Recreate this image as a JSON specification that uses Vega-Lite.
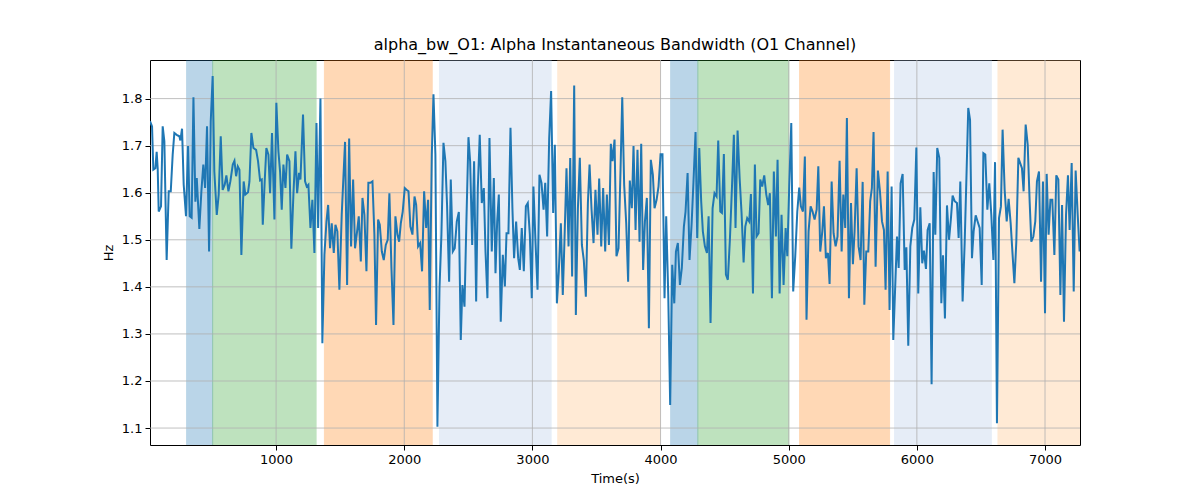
{
  "$schema": "https://vega.github.io/schema/vega-lite/v6.json",
  "width": 930,
  "height": 385,
  "autosize": {"type": "none"},
  "padding": {"left": 150, "top": 60, "right": 120, "bottom": 55},
  "background": "white",
  "title": {
    "text": "alpha_bw_O1: Alpha Instantaneous Bandwidth (O1 Channel)",
    "font": "DejaVu Sans",
    "fontSize": 16,
    "fontWeight": "normal",
    "color": "black",
    "offset": 7
  },
  "datasets": {
    "bands": [
      {"start": 302, "end": 505, "state": "A"},
      {"start": 505, "end": 1312, "state": "B"},
      {"start": 1377, "end": 2218, "state": "C"},
      {"start": 2275, "end": 3146, "state": "D"},
      {"start": 3198, "end": 3997, "state": "E"},
      {"start": 4079, "end": 4291, "state": "A"},
      {"start": 4291, "end": 5001, "state": "B"},
      {"start": 5085, "end": 5787, "state": "C"},
      {"start": 5826, "end": 6581, "state": "D"},
      {"start": 6633, "end": 7273, "state": "E"}
    ],
    "xticks": [{"t": 1000}, {"t": 2000}, {"t": 3000}, {"t": 4000}, {"t": 5000}, {"t": 6000}, {"t": 7000}],
    "yticks": [{"v": 1.1}, {"v": 1.2}, {"v": 1.3}, {"v": 1.4}, {"v": 1.5}, {"v": 1.6}, {"v": 1.7}, {"v": 1.8}],
    "series": [
      {"t":16,"v":1.752},{"t":32,"v":1.741},{"t":42,"v":1.649},{"t":58,"v":1.652},{"t":68,"v":1.687},{"t":76,"v":1.652},{"t":84,"v":1.560},{"t":102,"v":1.571},{"t":115,"v":1.741},{"t":128,"v":1.709},{"t":146,"v":1.457},{"t":162,"v":1.603},{"t":178,"v":1.603},{"t":193,"v":1.681},{"t":206,"v":1.727},{"t":224,"v":1.723},{"t":245,"v":1.720},{"t":253,"v":1.711},{"t":266,"v":1.736},{"t":279,"v":1.617},{"t":297,"v":1.550},{"t":313,"v":1.699},{"t":326,"v":1.550},{"t":341,"v":1.547},{"t":355,"v":1.803},{"t":370,"v":1.581},{"t":381,"v":1.631},{"t":401,"v":1.523},{"t":417,"v":1.603},{"t":432,"v":1.660},{"t":446,"v":1.610},{"t":461,"v":1.741},{"t":477,"v":1.475},{"t":490,"v":1.752},{"t":505,"v":1.848},{"t":518,"v":1.645},{"t":537,"v":1.553},{"t":552,"v":1.596},{"t":568,"v":1.720},{"t":583,"v":1.606},{"t":599,"v":1.617},{"t":612,"v":1.637},{"t":628,"v":1.603},{"t":643,"v":1.624},{"t":662,"v":1.660},{"t":675,"v":1.668},{"t":688,"v":1.635},{"t":701,"v":1.656},{"t":714,"v":1.649},{"t":729,"v":1.468},{"t":747,"v":1.624},{"t":760,"v":1.596},{"t":781,"v":1.601},{"t":792,"v":1.624},{"t":807,"v":1.727},{"t":823,"v":1.695},{"t":844,"v":1.691},{"t":859,"v":1.667},{"t":875,"v":1.626},{"t":888,"v":1.628},{"t":896,"v":1.532},{"t":911,"v":1.624},{"t":924,"v":1.695},{"t":940,"v":1.681},
      {"t":953,"v":1.599},{"t":968,"v":1.727},{"t":987,"v":1.543},{"t":1002,"v":1.791},{"t":1018,"v":1.688},{"t":1031,"v":1.645},{"t":1044,"v":1.564},{"t":1057,"v":1.660},{"t":1073,"v":1.610},{"t":1086,"v":1.681},{"t":1104,"v":1.667},{"t":1119,"v":1.481},{"t":1135,"v":1.596},{"t":1151,"v":1.688},{"t":1164,"v":1.599},{"t":1179,"v":1.642},{"t":1190,"v":1.628},{"t":1210,"v":1.766},{"t":1226,"v":1.624},{"t":1239,"v":1.613},{"t":1252,"v":1.617},{"t":1268,"v":1.525},{"t":1283,"v":1.585},{"t":1299,"v":1.472},{"t":1315,"v":1.748},{"t":1328,"v":1.525},{"t":1346,"v":1.800},{"t":1361,"v":1.280},{"t":1377,"v":1.468},{"t":1393,"v":1.539},{"t":1406,"v":1.574},{"t":1421,"v":1.482},{"t":1434,"v":1.535},{"t":1450,"v":1.472},{"t":1463,"v":1.532},{"t":1478,"v":1.518},{"t":1494,"v":1.394},{"t":1512,"v":1.553},{"t":1538,"v":1.708},{"t":1554,"v":1.404},{"t":1570,"v":1.715},{"t":1585,"v":1.486},{"t":1601,"v":1.628},{"t":1616,"v":1.482},{"t":1632,"v":1.518},{"t":1645,"v":1.550},{"t":1661,"v":1.454},{"t":1674,"v":1.589},{"t":1689,"v":1.553},{"t":1705,"v":1.433},{"t":1720,"v":1.621},{"t":1736,"v":1.621},{"t":1752,"v":1.624},{"t":1767,"v":1.511},{"t":1780,"v":1.319},{"t":1796,"v":1.543},{"t":1809,"v":1.532},{"t":1825,"v":1.475},{"t":1840,"v":1.457},{"t":1856,"v":1.489},{"t":1871,"v":1.500},{"t":1884,"v":1.599},{"t":1900,"v":1.440},{"t":1916,"v":1.319},
      {"t":1931,"v":1.550},{"t":1947,"v":1.511},{"t":1960,"v":1.496},{"t":1973,"v":1.535},{"t":1988,"v":1.560},{"t":2004,"v":1.610},{"t":2020,"v":1.606},{"t":2033,"v":1.603},{"t":2048,"v":1.528},{"t":2064,"v":1.511},{"t":2080,"v":1.592},{"t":2093,"v":1.574},{"t":2108,"v":1.486},{"t":2124,"v":1.493},{"t":2139,"v":1.433},{"t":2155,"v":1.603},{"t":2171,"v":1.525},{"t":2186,"v":1.585},{"t":2199,"v":1.351},{"t":2215,"v":1.681},{"t":2228,"v":1.809},{"t":2243,"v":1.681},{"t":2259,"v":1.103},{"t":2275,"v":1.397},{"t":2290,"v":1.511},{"t":2306,"v":1.706},{"t":2321,"v":1.667},{"t":2334,"v":1.574},{"t":2350,"v":1.411},{"t":2363,"v":1.628},{"t":2379,"v":1.475},{"t":2394,"v":1.482},{"t":2410,"v":1.539},{"t":2426,"v":1.559},{"t":2441,"v":1.287},{"t":2454,"v":1.404},{"t":2470,"v":1.358},{"t":2485,"v":1.539},{"t":2501,"v":1.718},{"t":2514,"v":1.667},{"t":2530,"v":1.489},{"t":2545,"v":1.667},{"t":2561,"v":1.369},{"t":2574,"v":1.610},{"t":2589,"v":1.723},{"t":2605,"v":1.578},{"t":2621,"v":1.610},{"t":2634,"v":1.475},{"t":2649,"v":1.376},{"t":2665,"v":1.716},{"t":2683,"v":1.475},{"t":2699,"v":1.631},{"t":2712,"v":1.429},{"t":2725,"v":1.539},{"t":2738,"v":1.596},{"t":2753,"v":1.326},{"t":2769,"v":1.468},{"t":2785,"v":1.401},{"t":2798,"v":1.514},{"t":2813,"v":1.514},{"t":2829,"v":1.738},{"t":2844,"v":1.567},{"t":2857,"v":1.461},{"t":2873,"v":1.539},{"t":2889,"v":1.461},
      {"t":2902,"v":1.436},{"t":2917,"v":1.525},{"t":2933,"v":1.433},{"t":2949,"v":1.571},{"t":2964,"v":1.578},{"t":2980,"v":1.511},{"t":2995,"v":1.376},{"t":3008,"v":1.613},{"t":3024,"v":1.496},{"t":3040,"v":1.394},{"t":3055,"v":1.638},{"t":3071,"v":1.621},{"t":3087,"v":1.564},{"t":3100,"v":1.621},{"t":3115,"v":1.507},{"t":3131,"v":1.716},{"t":3146,"v":1.816},{"t":3162,"v":1.557},{"t":3175,"v":1.702},{"t":3191,"v":1.365},{"t":3206,"v":1.433},{"t":3222,"v":1.535},{"t":3237,"v":1.383},{"t":3250,"v":1.496},{"t":3266,"v":1.652},{"t":3282,"v":1.486},{"t":3295,"v":1.674},{"t":3310,"v":1.422},{"t":3326,"v":1.828},{"t":3339,"v":1.340},{"t":3355,"v":1.567},{"t":3370,"v":1.674},{"t":3386,"v":1.489},{"t":3401,"v":1.457},{"t":3417,"v":1.379},{"t":3433,"v":1.578},{"t":3446,"v":1.660},{"t":3461,"v":1.567},{"t":3477,"v":1.493},{"t":3492,"v":1.606},{"t":3508,"v":1.511},{"t":3521,"v":1.630},{"t":3537,"v":1.486},{"t":3552,"v":1.610},{"t":3568,"v":1.475},{"t":3581,"v":1.596},{"t":3597,"v":1.489},{"t":3612,"v":1.704},{"t":3625,"v":1.667},{"t":3641,"v":1.713},{"t":3656,"v":1.465},{"t":3672,"v":1.482},{"t":3688,"v":1.652},{"t":3701,"v":1.803},{"t":3716,"v":1.617},{"t":3732,"v":1.535},{"t":3747,"v":1.411},{"t":3760,"v":1.626},{"t":3776,"v":1.567},{"t":3789,"v":1.699},{"t":3805,"v":1.521},{"t":3820,"v":1.691},{"t":3836,"v":1.496},{"t":3849,"v":1.704},{"t":3864,"v":1.436},
      {"t":3878,"v":1.539},{"t":3893,"v":1.589},{"t":3909,"v":1.312},{"t":3924,"v":1.670},{"t":3940,"v":1.638},{"t":3953,"v":1.567},{"t":3969,"v":1.585},{"t":3984,"v":1.613},{"t":4000,"v":1.682},{"t":4015,"v":1.682},{"t":4031,"v":1.376},{"t":4044,"v":1.550},{"t":4060,"v":1.383},{"t":4075,"v":1.149},{"t":4091,"v":1.447},{"t":4107,"v":1.365},{"t":4120,"v":1.475},{"t":4135,"v":1.493},{"t":4151,"v":1.404},{"t":4166,"v":1.440},{"t":4182,"v":1.528},{"t":4195,"v":1.560},{"t":4211,"v":1.642},{"t":4226,"v":1.457},{"t":4242,"v":1.532},{"t":4257,"v":1.624},{"t":4273,"v":1.729},{"t":4286,"v":1.504},{"t":4302,"v":1.695},{"t":4317,"v":1.582},{"t":4330,"v":1.518},{"t":4346,"v":1.486},{"t":4362,"v":1.472},{"t":4375,"v":1.550},{"t":4390,"v":1.323},{"t":4406,"v":1.567},{"t":4421,"v":1.599},{"t":4437,"v":1.592},{"t":4450,"v":1.711},{"t":4466,"v":1.560},{"t":4479,"v":1.557},{"t":4494,"v":1.682},{"t":4510,"v":1.426},{"t":4525,"v":1.415},{"t":4541,"v":1.500},{"t":4557,"v":1.610},{"t":4572,"v":1.723},{"t":4585,"v":1.525},{"t":4601,"v":1.732},{"t":4617,"v":1.631},{"t":4632,"v":1.557},{"t":4648,"v":1.452},{"t":4661,"v":1.528},{"t":4676,"v":1.546},{"t":4692,"v":1.539},{"t":4705,"v":1.597},{"t":4721,"v":1.386},{"t":4736,"v":1.660},{"t":4749,"v":1.507},{"t":4765,"v":1.514},{"t":4778,"v":1.628},{"t":4793,"v":1.613},{"t":4809,"v":1.637},{"t":4825,"v":1.596},{"t":4840,"v":1.574},
      {"t":4853,"v":1.599},{"t":4869,"v":1.376},{"t":4884,"v":1.645},{"t":4900,"v":1.507},{"t":4913,"v":1.670},{"t":4929,"v":1.386},{"t":4944,"v":1.553},{"t":4960,"v":1.404},{"t":4976,"v":1.525},{"t":4989,"v":1.465},{"t":5004,"v":1.613},{"t":5020,"v":1.748},{"t":5035,"v":1.390},{"t":5051,"v":1.465},{"t":5067,"v":1.560},{"t":5082,"v":1.611},{"t":5095,"v":1.571},{"t":5111,"v":1.560},{"t":5126,"v":1.677},{"t":5139,"v":1.330},{"t":5155,"v":1.518},{"t":5171,"v":1.571},{"t":5186,"v":1.560},{"t":5202,"v":1.543},{"t":5218,"v":1.564},{"t":5231,"v":1.656},{"t":5246,"v":1.475},{"t":5262,"v":1.518},{"t":5275,"v":1.571},{"t":5290,"v":1.461},{"t":5306,"v":1.472},{"t":5319,"v":1.406},{"t":5335,"v":1.624},{"t":5350,"v":1.514},{"t":5366,"v":1.486},{"t":5381,"v":1.507},{"t":5397,"v":1.668},{"t":5413,"v":1.475},{"t":5426,"v":1.596},{"t":5441,"v":1.525},{"t":5454,"v":1.759},{"t":5470,"v":1.376},{"t":5486,"v":1.578},{"t":5501,"v":1.448},{"t":5514,"v":1.518},{"t":5530,"v":1.652},{"t":5545,"v":1.486},{"t":5561,"v":1.457},{"t":5577,"v":1.623},{"t":5590,"v":1.362},{"t":5605,"v":1.475},{"t":5621,"v":1.475},{"t":5636,"v":1.582},{"t":5649,"v":1.610},{"t":5662,"v":1.729},{"t":5678,"v":1.443},{"t":5696,"v":1.647},{"t":5712,"v":1.603},{"t":5728,"v":1.539},{"t":5743,"v":1.521},{"t":5756,"v":1.394},{"t":5772,"v":1.645},{"t":5787,"v":1.351},{"t":5803,"v":1.613},{"t":5816,"v":1.287},
      {"t":5845,"v":1.507},{"t":5858,"v":1.440},{"t":5873,"v":1.620},{"t":5889,"v":1.640},{"t":5905,"v":1.436},{"t":5918,"v":1.484},{"t":5933,"v":1.275},{"t":5949,"v":1.486},{"t":5964,"v":1.525},{"t":5980,"v":1.543},{"t":5996,"v":1.696},{"t":6011,"v":1.386},{"t":6027,"v":1.569},{"t":6042,"v":1.450},{"t":6055,"v":1.477},{"t":6071,"v":1.438},{"t":6084,"v":1.521},{"t":6100,"v":1.535},{"t":6115,"v":1.193},{"t":6131,"v":1.644},{"t":6144,"v":1.511},{"t":6159,"v":1.695},{"t":6175,"v":1.674},{"t":6191,"v":1.365},{"t":6204,"v":1.467},{"t":6219,"v":1.333},{"t":6235,"v":1.573},{"t":6251,"v":1.500},{"t":6266,"v":1.546},{"t":6279,"v":1.594},{"t":6295,"v":1.582},{"t":6313,"v":1.578},{"t":6326,"v":1.504},{"t":6339,"v":1.624},{"t":6357,"v":1.369},{"t":6373,"v":1.493},{"t":6386,"v":1.624},{"t":6401,"v":1.780},{"t":6415,"v":1.755},{"t":6430,"v":1.461},{"t":6443,"v":1.518},{"t":6459,"v":1.552},{"t":6474,"v":1.539},{"t":6490,"v":1.525},{"t":6506,"v":1.404},{"t":6519,"v":1.684},{"t":6534,"v":1.681},{"t":6550,"v":1.564},{"t":6565,"v":1.620},{"t":6581,"v":1.553},{"t":6597,"v":1.457},{"t":6610,"v":1.665},{"t":6625,"v":1.110},{"t":6641,"v":1.546},{"t":6656,"v":1.571},{"t":6669,"v":1.734},{"t":6685,"v":1.606},{"t":6701,"v":1.539},{"t":6716,"v":1.587},{"t":6732,"v":1.535},{"t":6747,"v":1.468},{"t":6761,"v":1.408},{"t":6776,"v":1.496},{"t":6792,"v":1.674},
      {"t":6820,"v":1.652},{"t":6833,"v":1.603},{"t":6849,"v":1.745},{"t":6865,"v":1.702},{"t":6880,"v":1.582},{"t":6893,"v":1.496},{"t":6909,"v":1.507},{"t":6924,"v":1.539},{"t":6937,"v":1.624},{"t":6953,"v":1.645},{"t":6969,"v":1.411},{"t":6984,"v":1.624},{"t":7000,"v":1.344},{"t":7013,"v":1.640},{"t":7028,"v":1.511},{"t":7042,"v":1.585},{"t":7057,"v":1.585},{"t":7073,"v":1.468},{"t":7088,"v":1.637},{"t":7104,"v":1.628},{"t":7120,"v":1.383},{"t":7133,"v":1.574},{"t":7148,"v":1.326},{"t":7164,"v":1.553},{"t":7179,"v":1.637},{"t":7192,"v":1.521},{"t":7208,"v":1.663},{"t":7224,"v":1.390},{"t":7239,"v":1.647},{"t":7255,"v":1.553},{"t":7270,"v":1.475}
    ]
  },
  "layer": [
    {
      "data": {"name": "bands"},
      "mark": {"type": "rect", "opacity": 0.3, "strokeWidth": 1, "clip": true},
      "encoding": {
        "x": {
          "field": "start",
          "type": "quantitative",
          "scale": {"domain": [16, 7273], "nice": false, "zero": false},
          "axis": {"title": "Time(s)", "values": [1000, 2000, 3000, 4000, 5000, 6000, 7000], "format": "d"}
        },
        "x2": {"field": "end"},
        "color": {
          "field": "state",
          "type": "nominal",
          "scale": {
            "domain": ["A", "B", "C", "D", "E"],
            "range": ["#1f77b4", "#2ca02c", "#ff7f0e", "#aec7e8", "#ffbb78"]
          },
          "legend": null
        },
        "stroke": {
          "field": "state",
          "type": "nominal",
          "scale": {
            "domain": ["A", "B", "C", "D", "E"],
            "range": ["#1f77b4", "#2ca02c", "#ff7f0e", "#aec7e8", "#ffbb78"]
          },
          "legend": null
        }
      }
    },
    {
      "data": {"name": "xticks"},
      "mark": {"type": "rule", "color": "#b0b0b0", "strokeWidth": 0.8},
      "encoding": {"x": {"field": "t", "type": "quantitative"}}
    },
    {
      "data": {"name": "yticks"},
      "mark": {"type": "rule", "color": "#b0b0b0", "strokeWidth": 0.8},
      "encoding": {"y": {"field": "v", "type": "quantitative"}}
    },
    {
      "data": {"name": "series"},
      "mark": {"type": "line", "color": "#1f77b4", "strokeWidth": 2, "clip": true},
      "encoding": {
        "x": {"field": "t", "type": "quantitative"},
        "y": {
          "field": "v",
          "type": "quantitative",
          "scale": {"domain": [1.064, 1.882], "nice": false, "zero": false},
          "axis": {"title": "Hz", "values": [1.1, 1.2, 1.3, 1.4, 1.5, 1.6, 1.7, 1.8], "format": ".1f"}
        }
      }
    }
  ],
  "config": {
    "view": {"stroke": "black", "strokeWidth": 1},
    "axis": {
      "domain": false,
      "grid": false,
      "tickColor": "black",
      "tickSize": 5,
      "labelPadding": 3,
      "labelFont": "DejaVu Sans",
      "labelFontSize": 13,
      "labelColor": "black",
      "titleFont": "DejaVu Sans",
      "titleFontSize": 13,
      "titleFontWeight": "normal",
      "titleColor": "black",
      "titlePadding": 6
    }
  }
}
